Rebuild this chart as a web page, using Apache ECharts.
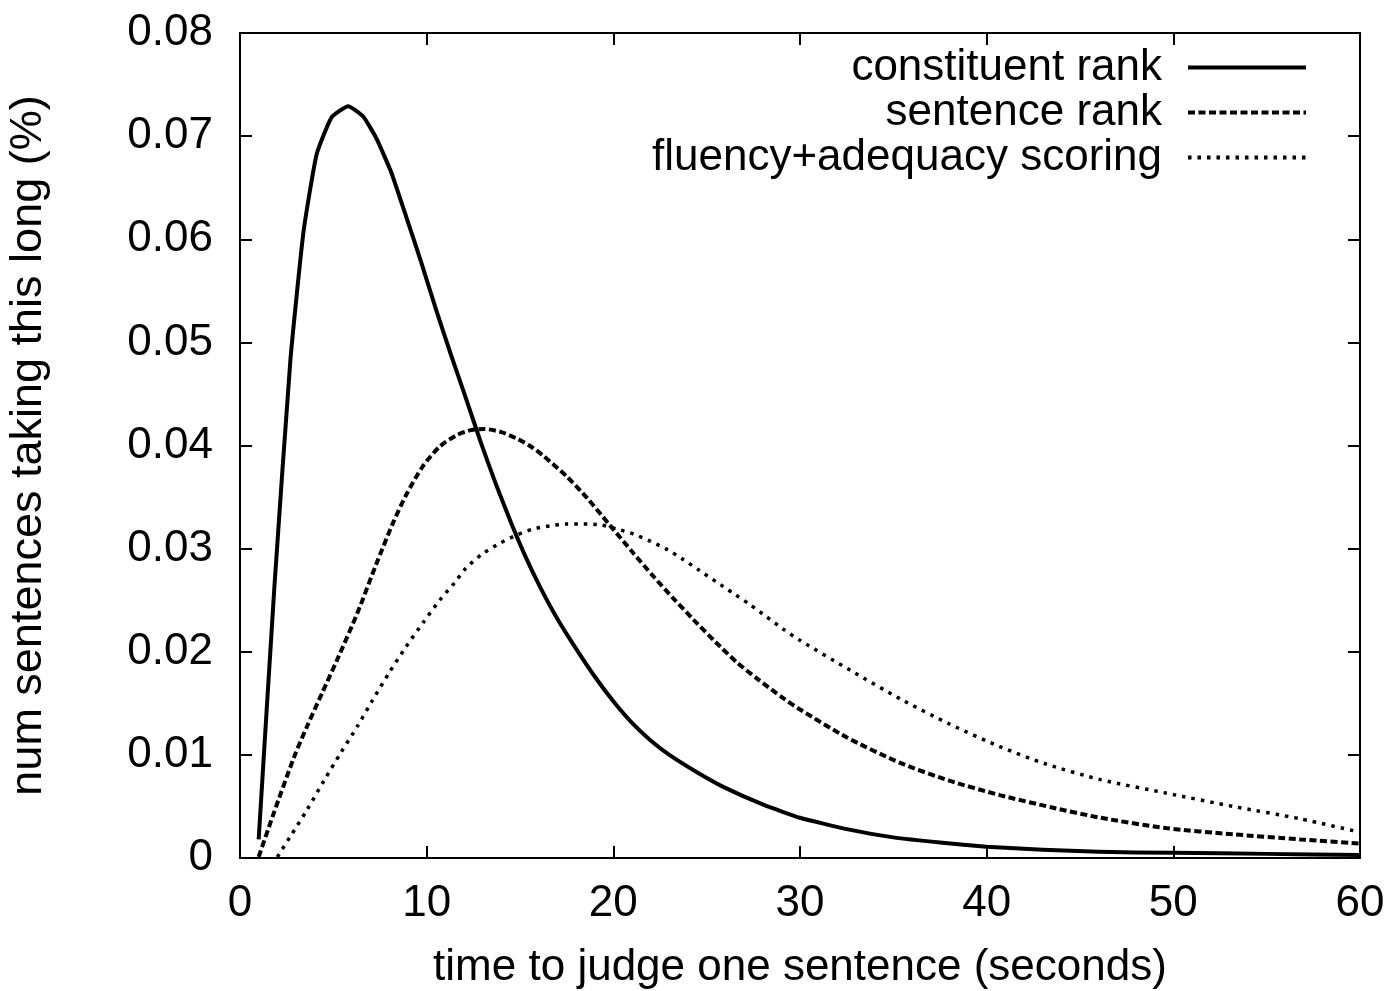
<!DOCTYPE html>
<html>
<head>
<meta charset="utf-8">
<script src="https://cdn.jsdelivr.net/npm/echarts@6/dist/echarts.min.js"></script>
<style>
  html, body { margin: 0; padding: 0; background: #fff; }
  #chart { width: 1395px; height: 991px; }
</style>
</head>
<body>
<div id="chart"></div>
<script>
// 数据
const seriesNames = ['constituent rank', 'sentence rank', 'fluency+adequacy scoring']

const constituentTime = [1.0, 1.85, 2.7, 3.4, 4.1, 4.9, 5.8, 6.6, 7.3, 8.1, 8.9, 9.7, 10.5, 11.3, 12.1, 12.9, 13.7, 14.5, 15.3, 16.1, 17, 18, 19, 20, 21, 22, 23, 24.5, 26, 28, 30, 32.5, 35, 37.5, 40, 43, 46, 50, 55, 60]
const constituentRank = [0.0018, 0.0265, 0.0483, 0.0607, 0.0682, 0.0718, 0.0729, 0.0719, 0.0698, 0.0665, 0.0622, 0.0578, 0.0532, 0.0488, 0.0446, 0.0403, 0.0363, 0.0326, 0.0292, 0.0262, 0.0232, 0.0203, 0.0176, 0.0152, 0.0131, 0.0114, 0.0100, 0.0083, 0.0068, 0.0052, 0.0039, 0.0028, 0.0020, 0.0015, 0.0011, 0.0008, 0.0006, 0.0005, 0.0004, 0.0003]

const sentenceTime = [1.0, 1.8, 2.9, 3.6, 4.4, 5.2, 6.3, 7.3, 8.2, 8.9, 9.8, 10.7, 11.6, 12.4, 13.1, 14.0, 14.8, 15.5, 16.25, 17.5, 18.6, 19.8, 21.1, 22.1, 23.2, 24.3, 25.5, 26.6, 27.7, 29.1, 30, 32.5, 35.4, 38, 40.7, 43.5, 46.1, 49.6, 53.2, 56.8, 60]
const sentenceRank = [0.0001, 0.0043, 0.0098, 0.0128, 0.0160, 0.0192, 0.0238, 0.0285, 0.0325, 0.0352, 0.0380, 0.0399, 0.0410, 0.0415, 0.0416, 0.0413, 0.0407, 0.0400, 0.0390, 0.0370, 0.0349, 0.0323, 0.0295, 0.0274, 0.0252, 0.0231, 0.0209, 0.0190, 0.0174, 0.0155, 0.0144, 0.0117, 0.0092, 0.0075, 0.0061, 0.0049, 0.0039, 0.0029, 0.0023, 0.0018, 0.0014]

const fluencyTime = [2.0, 2.7, 3.6, 4.5, 5.4, 6.3, 7.1, 8.0, 8.9, 9.8, 10.7, 11.5, 12.1, 13.0, 13.9, 14.8, 15.7, 16.6, 17.5, 18.4, 19.3, 20.2, 21.1, 22.0, 22.9, 23.7, 24.6, 25.5, 26.4, 27.3, 28.2, 29.1, 30, 32.7, 35.4, 38, 40.7, 43.2, 46.1, 49.6, 53.2, 56.8, 60]
const fluencyAdequacy = [0.0001, 0.0021, 0.0047, 0.0075, 0.0102, 0.0128, 0.0153, 0.0180, 0.0205, 0.0228, 0.0250, 0.0267, 0.0281, 0.0295, 0.0305, 0.0313, 0.0319, 0.0322, 0.0324, 0.0324, 0.0323, 0.0319, 0.0314, 0.0307, 0.0299, 0.0290, 0.0279, 0.0268, 0.0257, 0.0246, 0.0234, 0.0222, 0.0211, 0.0182, 0.0154, 0.0130, 0.0108, 0.0091, 0.0076, 0.0063, 0.0050, 0.0038, 0.0025]

const xTickLabels = ['0', '10', '20', '30', '40', '50', '60']
const yTickLabels = ['0', '0.01', '0.02', '0.03', '0.04', '0.05', '0.06', '0.07', '0.08']

const pairs = (xs, ys) => xs.map((x, i) => [x, ys[i]])

const FONT = '"Liberation Sans", Arial, Helvetica, sans-serif'

const chart = echarts.init(document.getElementById('chart'))

// 四边框线 + 向内刻度
const mkLine = () => ({ show: true, onZero: false, lineStyle: { color: '#000', width: 2 } })
const mkTick = () => ({ show: true, inside: true, length: 12, lineStyle: { color: '#000', width: 2 } })

const option = {
  backgroundColor: '#fff',
  animation: false,
  grid: {
    left: 240,
    right: 35,
    top: 33,
    bottom: 133,
    outerBoundsMode: 'none'
  },
  legend: {
    orient: 'vertical',
    right: 82,
    top: 40,
    align: 'right',
    itemWidth: 118,
    itemHeight: 2,
    itemGap: 0,
    data: seriesNames,
    itemStyle: { opacity: 0 },
    lineStyle: { width: 4 },
    textStyle: {
      fontFamily: FONT,
      fontSize: 44,
      color: '#000',
      lineHeight: 45,
      padding: [0, 21, 0, 0]
    }
  },
  xAxis: [
    {
      type: 'value',
      min: 0,
      max: 60,
      interval: 10,
      name: 'time to judge one sentence (seconds)',
      nameLocation: 'middle',
      nameGap: 88,
      nameTextStyle: { fontFamily: FONT, fontSize: 44, color: '#000' },
      axisLine: mkLine(),
      axisTick: mkTick(),
      splitLine: { show: false },
      axisLabel: {
        fontFamily: FONT,
        fontSize: 44,
        color: '#000',
        margin: 24,
        formatter: (v) => xTickLabels[Math.round(v / 10)]
      }
    },
    {
      type: 'value',
      position: 'top',
      min: 0,
      max: 60,
      interval: 10,
      axisLine: mkLine(),
      axisTick: mkTick(),
      splitLine: { show: false },
      axisLabel: { show: false }
    }
  ],
  yAxis: [
    {
      type: 'value',
      min: 0,
      max: 0.08,
      interval: 0.01,
      name: 'num sentences taking this long (%)',
      nameLocation: 'middle',
      nameGap: 189,
      nameTextStyle: { fontFamily: FONT, fontSize: 45, color: '#000' },
      axisLine: mkLine(),
      axisTick: mkTick(),
      splitLine: { show: false },
      axisLabel: {
        fontFamily: FONT,
        fontSize: 44,
        color: '#000',
        margin: 27,
        formatter: (v) => yTickLabels[Math.round(v / 0.01)]
      }
    },
    {
      type: 'value',
      position: 'right',
      min: 0,
      max: 0.08,
      interval: 0.01,
      axisLine: mkLine(),
      axisTick: mkTick(),
      splitLine: { show: false },
      axisLabel: { show: false }
    }
  ],
  series: [
    {
      name: seriesNames[0],
      type: 'line',
      data: pairs(constituentTime, constituentRank),
      symbol: 'none',
      smooth: 0.15,
      lineStyle: { color: '#000', width: 4, type: 'solid', cap: 'butt', join: 'round' },
      itemStyle: { color: '#000' }
    },
    {
      name: seriesNames[1],
      type: 'line',
      data: pairs(sentenceTime, sentenceRank),
      symbol: 'none',
      smooth: 0.25,
      lineStyle: { color: '#000', width: 4, type: [7, 3.5], cap: 'butt' },
      itemStyle: { color: '#000' }
    },
    {
      name: seriesNames[2],
      type: 'line',
      data: pairs(fluencyTime, fluencyAdequacy),
      symbol: 'none',
      smooth: 0.25,
      lineStyle: { color: '#000', width: 3.5, type: [3.5, 6], cap: 'butt' },
      itemStyle: { color: '#000' }
    }
  ]
}

chart.setOption(option)

window.addEventListener('resize', () => chart.resize())
</script>
</body>
</html>
